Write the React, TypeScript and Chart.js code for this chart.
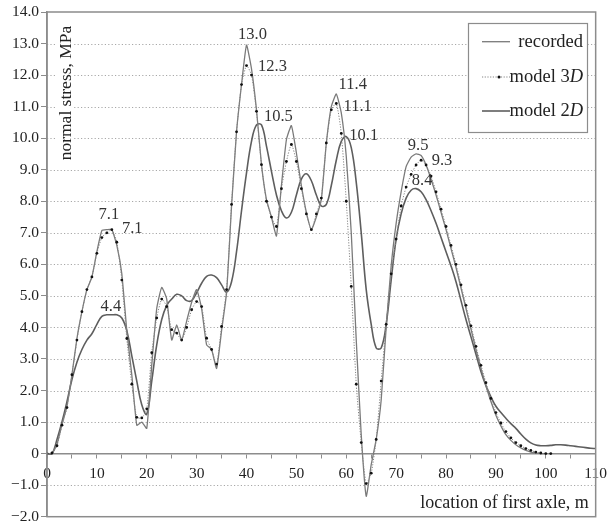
import { useEffect, useRef } from 'react';
import { Chart, registerables } from 'chart.js';

Chart.register(...registerables);

// location of first axle, m (one sample per metre)
const positions: number[] = Array.from({ length: 111 }, (_, i) => i);

// normal stress, MPa
const recorded: number[] = [
  0, 0, 0.3, 0.92, 1.5, 2.5, 3.65, 4.5, 5.2, 5.6,
  6.4, 7.07, 7.1, 7.1, 6.6, 5.7, 3.9, 2.5, 0.9, 1.0,
  0.8, 2.8, 4.6, 5.27, 4.9, 3.6, 4.08, 3.6, 4.2, 4.8,
  5.2, 4.6, 3.45, 3.3, 2.7, 3.9, 5.1, 7.84, 10.2, 11.7,
  12.95, 12.2, 10.9, 9.16, 8.05, 7.5, 6.9, 8.5, 9.95, 10.4,
  9.53, 8.5, 7.65, 7.1, 7.5, 8.05, 9.84, 11.0, 11.4, 10.8,
  9.42, 7.0, 3.6, 0.6, -1.35, -0.35, 0.45, 1.7, 4.0, 5.95,
  7.3, 8.3, 9.1, 9.4, 9.5, 9.45, 9.15, 8.7, 8.2, 7.65,
  7.1, 6.5, 5.9, 5.25, 4.6, 3.95, 3.3, 2.7, 2.15, 1.65,
  1.22, 0.88, 0.6, 0.42, 0.28, 0.18, 0.1, 0.05, 0.02, 0,
  0,
];

const model3D: number[] = [
  0, 0.02, 0.25, 0.9, 1.46, 2.5, 3.6, 4.5, 5.2, 5.6,
  6.35, 6.85, 7.0, 7.1, 6.7, 5.5, 3.65, 2.2, 1.15, 1.13,
  1.42, 3.2, 4.3, 4.9, 4.66, 3.93, 3.82, 3.6, 4.0, 4.56,
  4.82, 4.66, 3.66, 3.3, 2.84, 4.03, 5.2, 7.9, 10.2, 11.7,
  12.3, 12.0, 10.85, 9.16, 8.0, 7.5, 7.2, 8.4, 9.26, 9.8,
  9.26, 8.4, 7.6, 7.1, 7.6, 8.1, 9.85, 10.9, 11.1, 10.15,
  8.0, 5.3, 2.2, 0.35, -0.95, -0.62, 0.45, 2.3, 4.1, 5.7,
  6.8, 7.85, 8.45, 8.85, 9.15, 9.3, 9.15, 8.8, 8.3, 7.75,
  7.2, 6.6, 6.0, 5.35, 4.7, 4.05, 3.4, 2.8, 2.25, 1.75,
  1.3, 0.97, 0.7, 0.5, 0.35, 0.25, 0.16, 0.1, 0.05, 0.02,
  0.0, 0,
];

const model2D: number[] = [
  0, 0, 0.45, 1.0, 1.65, 2.35, 2.9, 3.3, 3.6, 3.8,
  4.1, 4.35, 4.4, 4.4, 4.4, 4.3, 3.9, 3.1, 2.3, 1.55,
  1.25, 2.3, 3.45, 4.25, 4.7, 4.9, 5.05, 5.0, 4.85, 4.85,
  5.1, 5.4, 5.62, 5.66, 5.58, 5.35, 5.12, 5.45, 6.4, 7.7,
  8.9, 9.9, 10.42, 10.42, 9.75, 8.95, 8.2, 7.7, 7.47, 7.65,
  8.2, 8.7, 8.87, 8.65, 8.2, 7.85, 7.9, 8.5, 9.3, 9.9,
  10.05, 9.7, 8.6, 7.0, 5.2, 4.1, 3.35, 3.35, 4.1, 5.5,
  6.8, 7.6, 8.1, 8.35, 8.4, 8.3, 8.05, 7.7, 7.3, 6.85,
  6.4, 5.95, 5.45, 4.85, 4.25, 3.7, 3.15, 2.6, 2.15, 1.8,
  1.5, 1.3, 1.12, 0.95, 0.8, 0.62, 0.46, 0.34, 0.27, 0.25,
  0.25, 0.26, 0.28, 0.28, 0.27, 0.25, 0.23, 0.21, 0.19, 0.17,
  0.16,
];

const seriesNames = ['recorded', 'model 3', 'model 2'];

// peak value labels
const peakLabels = ['7.1', '7.1', '4.4', '13.0', '12.3', '10.5', '11.4', '11.1', '10.1', '9.5', '9.3', '8.4'];
const peakLabelX = [12.4, 17.1, 12.8, 41.2, 45.2, 46.4, 61.3, 62.3, 63.5, 74.4, 79.2, 75.2];
const peakLabelY = [7.57, 7.13, 4.66, 13.28, 12.28, 10.69, 11.7, 11.0, 10.07, 9.76, 9.3, 8.65];

const yGridValues = [-1, 1, 2, 3, 4, 5, 6, 7, 8, 9, 10, 11, 12, 13];

const xTitle = 'location of first axle, m';
const yTitle = 'normal stress, MPa';

const SERIF = "'Liberation Serif', 'Times New Roman', serif";
const FRAME = '#8c8c8c';

function fmtY(v: number): string {
  if (v === 0) return '0';
  const s = Math.abs(v).toFixed(1);
  return v < 0 ? '\u2212' + s : s;
}

const decorPlugin = {
  id: 'decor',
  beforeDatasetsDraw(chart: any) {
    const { ctx, chartArea, scales } = chart;
    const y = scales.y;
    ctx.save();
    ctx.strokeStyle = '#a8a8a8';
    ctx.lineWidth = 1;
    ctx.setLineDash([1.2, 2.2]);
    for (const v of yGridValues) {
      const py = Math.round(y.getPixelForValue(v)) + 0.5;
      ctx.beginPath();
      ctx.moveTo(chartArea.left, py);
      ctx.lineTo(chartArea.right, py);
      ctx.stroke();
    }
    ctx.restore();
  },
  afterDraw(chart: any) {
    const { ctx, chartArea, scales } = chart;
    const xs = scales.x;
    const ys = scales.y;
    ctx.save();
    // frame
    ctx.strokeStyle = FRAME;
    ctx.lineWidth = 1.5;
    ctx.strokeRect(chartArea.left, chartArea.top, chartArea.right - chartArea.left, chartArea.bottom - chartArea.top);

    // y title
    ctx.save();
    ctx.translate(66, 93);
    ctx.rotate(-Math.PI / 2);
    ctx.font = `17.5px ${SERIF}`;
    const tw = ctx.measureText(yTitle).width;
    ctx.fillStyle = '#fff';
    ctx.fillRect(-tw / 2 - 3, -9, tw + 6, 17);
    ctx.fillStyle = '#222';
    ctx.textAlign = 'center';
    ctx.textBaseline = 'middle';
    ctx.fillText(yTitle, 0, 0);
    ctx.restore();

    // x title
    ctx.font = `18px ${SERIF}`;
    ctx.fillStyle = '#222';
    ctx.textAlign = 'right';
    ctx.textBaseline = 'middle';
    ctx.fillText(xTitle, chartArea.right - 7, 503);

    // peak labels
    ctx.font = `16.5px ${SERIF}`;
    ctx.textAlign = 'center';
    ctx.fillStyle = '#333';
    for (let i = 0; i < peakLabels.length; i++) {
      ctx.fillText(peakLabels[i], xs.getPixelForValue(peakLabelX[i]), ys.getPixelForValue(peakLabelY[i]));
    }

    // legend
    const lx = 468, ly = 23, lw = 119, lh = 109;
    ctx.fillStyle = '#fff';
    ctx.fillRect(lx, ly, lw, lh);
    ctx.strokeStyle = FRAME;
    ctx.lineWidth = 1.2;
    ctx.strokeRect(lx + 0.5, ly + 0.5, lw, lh);
    const rows = [41.7, 77, 111];
    const ds = chart.data.datasets;
    ctx.textBaseline = 'middle';
    for (let i = 0; i < 3; i++) {
      const d = ds[i];
      const ry = rows[i];
      ctx.save();
      ctx.strokeStyle = d.borderColor;
      ctx.lineWidth = d.borderWidth;
      ctx.setLineDash(d.borderDash || []);
      ctx.beginPath();
      ctx.moveTo(482, ry);
      ctx.lineTo(510, ry);
      ctx.stroke();
      ctx.restore();
      if (i === 1) {
        ctx.fillStyle = '#111';
        ctx.beginPath();
        ctx.arc(499, ry, 1.5, 0, Math.PI * 2);
        ctx.fill();
      }
      ctx.fillStyle = '#222';
      const right = 583;
      if (i === 0) {
        ctx.textAlign = 'right';
        ctx.font = `18.5px ${SERIF}`;
        ctx.fillText(seriesNames[0], right, ry);
      } else {
        ctx.font = `italic 18.5px ${SERIF}`;
        const dw = ctx.measureText('D').width;
        ctx.textAlign = 'right';
        ctx.fillText('D', right, ry);
        ctx.font = `18.5px ${SERIF}`;
        ctx.fillText(seriesNames[i], right - dw, ry);
      }
    }
    ctx.restore();
  },
};

export default function App() {
  const ref = useRef<HTMLCanvasElement | null>(null);
  useEffect(() => {
    if (!ref.current) return;
    const chart = new Chart(ref.current, {
      type: 'line',
      data: {
        datasets: [
          {
            label: 'recorded',
            data: recorded.map((v, i) => ({ x: positions[i], y: v })),
            borderColor: '#7a7a7a',
            borderWidth: 1.3,
            pointRadius: 0,
            tension: 0.15,
            order: 2,
          },
          {
            label: 'model 3D',
            data: model3D.map((v, i) => ({ x: positions[i], y: v })),
            borderColor: '#858585',
            borderWidth: 1,
            borderDash: [1.2, 1.5],
            pointRadius: 1.4,
            pointBackgroundColor: '#111',
            pointBorderWidth: 0,
            tension: 0.2,
            order: 1,
          },
          {
            label: 'model 2D',
            data: model2D.map((v, i) => ({ x: positions[i], y: v })),
            borderColor: '#5e5e5e',
            borderWidth: 1.6,
            pointRadius: 0,
            tension: 0.4,
            order: 3,
          },
        ],
      },
      options: {
        animation: false,
        responsive: false,
        maintainAspectRatio: false,
        layout: { padding: { top: 12, right: 13, bottom: 9, left: 0 } },
        plugins: { legend: { display: false }, tooltip: { enabled: false } },
        scales: {
          x: {
            type: 'linear',
            min: 0,
            max: 110,
            position: { y: 0 } as any,
            ticks: {
              stepSize: 5,
              autoSkip: false,
              maxRotation: 0,
              padding: 7,
              color: '#222',
              font: { family: SERIF, size: 15.5 },
              callback: (v: any) => (Number(v) % 10 === 0 ? String(v) : ''),
            },
            grid: { drawOnChartArea: false, drawTicks: true, tickLength: 4, color: FRAME, tickWidth: 1 },
            border: { color: FRAME, width: 1.5 },
          },
          y: {
            min: -2,
            max: 14,
            ticks: {
              stepSize: 1,
              padding: 2,
              color: '#222',
              font: { family: SERIF, size: 15.5 },
              callback: (v: any) => fmtY(Number(v)),
            },
            grid: { drawOnChartArea: false, drawTicks: true, tickLength: 6, color: FRAME, tickWidth: 1 },
            border: { color: FRAME, width: 1.5 },
            afterFit: (s: any) => {
              s.width = 47;
            },
          },
        },
      },
      plugins: [decorPlugin],
    });
    return () => chart.destroy();
  }, []);
  return (
    <div style={{ position: 'fixed', left: 0, top: 0, width: 614, height: 528, background: '#fff' }}>
      <canvas ref={ref} width={614} height={528} style={{ width: 614, height: 528, display: 'block' }} />
    </div>
  );
}
